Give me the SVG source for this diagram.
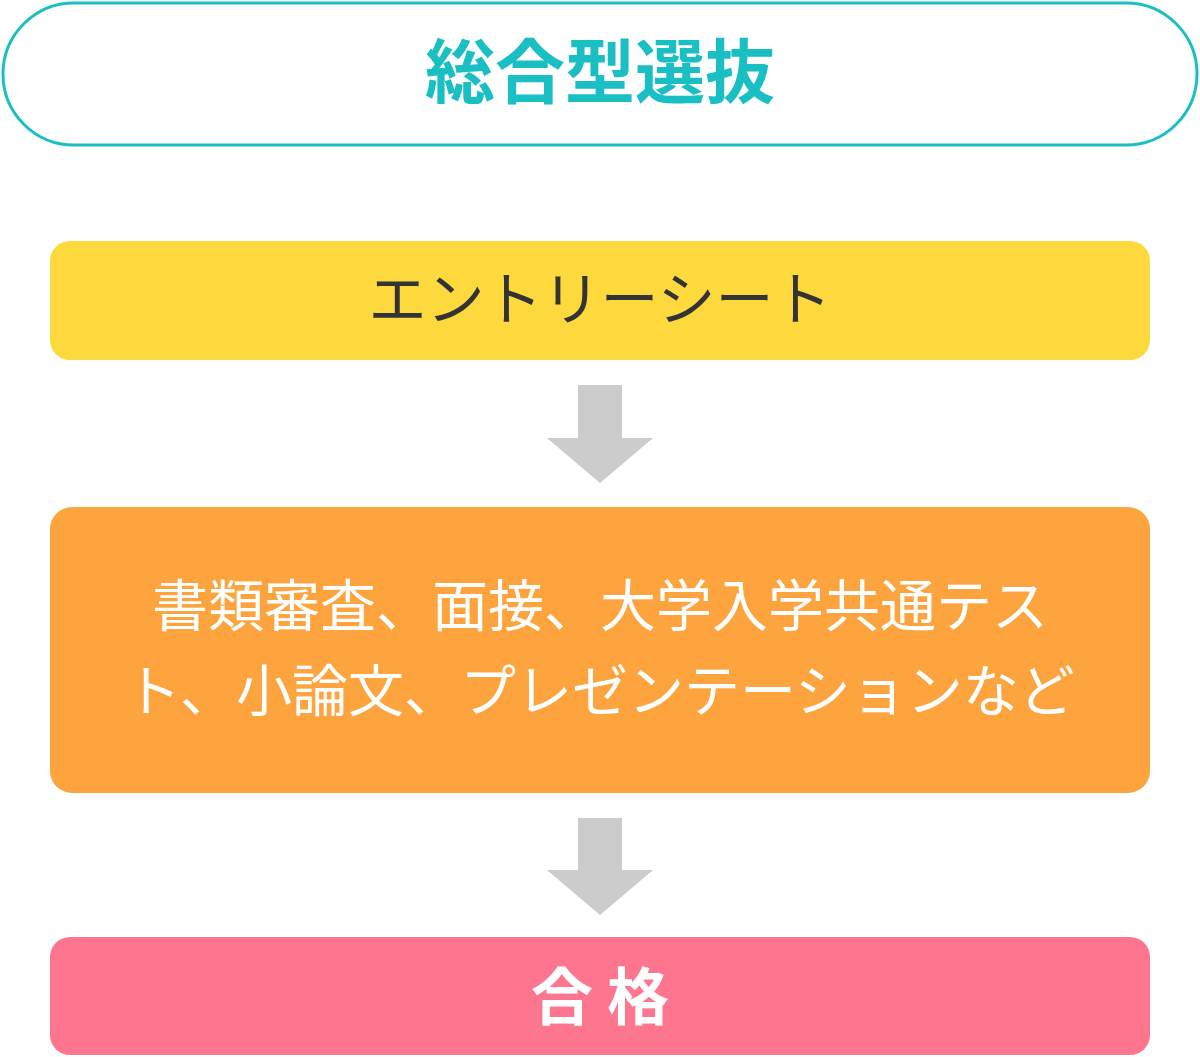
<svg xmlns="http://www.w3.org/2000/svg" width="1200" height="1057" viewBox="0 0 1200 1057">
<style>
text{font-family:"Noto Sans CJK JP","Noto Sans CJK SC",sans-serif;text-anchor:middle}
.arrow{fill:#CCCCCC}
</style>
<rect width="1200" height="1057" fill="#fff"/>
<g id="title">
<rect x="3" y="3" width="1194" height="142" rx="71" fill="#fff" stroke="#1ABFC4" stroke-width="3"/>
<text x="600" y="98" font-size="70" font-weight="bold" fill="#1ABFC4">総合型選抜</text>
</g>
<g id="entry">
<rect x="50" y="241" width="1100" height="119" rx="20" fill="#FDD93E"/>
<text x="600" y="320" font-size="58" fill="#333">エントリーシート</text>
</g>
<g id="connectors">
<path class="arrow" d="M578 385H622V438H653L600 483L547 438H578Z"/>
<path class="arrow" d="M578 818H622V870H653L600 915L547 870H578Z"/>
</g>
<g id="exam">
<rect x="50" y="507" width="1100" height="286" rx="22" fill="#FDA43E"/>
<text x="600" y="626" font-size="56" fill="#fff">書類審査、面接、大学入学共通テス</text>
<text x="600" y="711" font-size="56" fill="#fff">ト、小論文、プレゼンテーションなど</text>
</g>
<g id="pass">
<rect x="50" y="937" width="1100" height="118" rx="20" fill="#FE758F"/>
<text x="600" y="1020" font-size="62" font-weight="bold" fill="#fff">合 格</text>
</g>
</svg>
